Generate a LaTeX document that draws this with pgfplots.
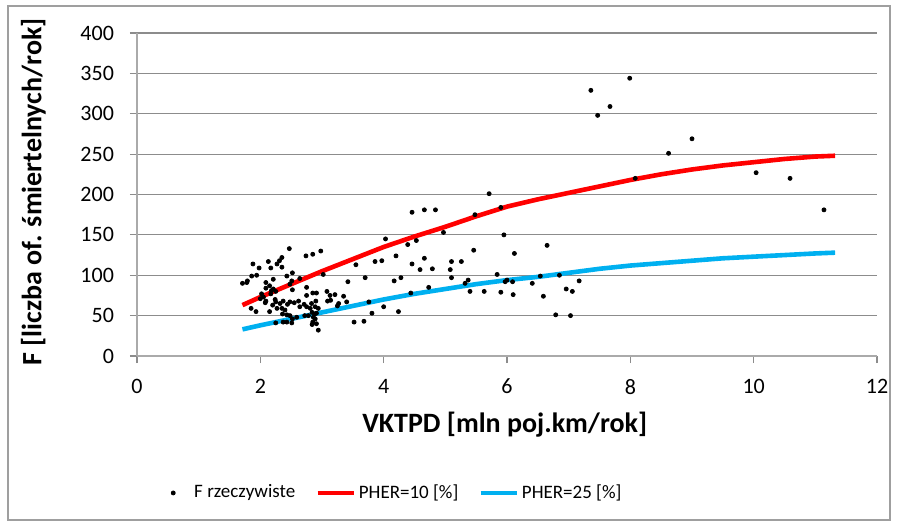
\documentclass[border=0pt]{standalone}
\usepackage{pgfplots}
\pgfplotsset{compat=1.18}
\usepackage{pgfplotstable}
\usepackage{fontspec}
\setmainfont{Carlito}
\definecolor{gridgray}{RGB}{140,140,140}
\definecolor{axgray}{RGB}{170,170,170}
\definecolor{exred}{RGB}{255,0,0}
\definecolor{exblue}{RGB}{0,176,240}

\pgfplotstableread{
x y
1.71 90
1.78 91
1.79 93
1.86 99
1.88 114
1.94 100
1.98 109
2.13 117
2.17 109
2.27 114
2.31 118
2.35 122
2.35 110
2.47 133
2.74 124
2.85 126
2.98 130
2.43 99
2.52 103
2.64 96
2.51 93
2.48 89
2.21 95
3.02 101
2.09 91
2.15 87
2.09 84
2.18 81
2.21 83
2.25 80
2.17 77
2.02 77
2.05 73
2.00 71
2.09 68
2.08 66
2.24 70
2.25 67
2.20 63
2.75 85
2.52 82
2.85 78
2.91 78
2.75 75
3.08 80
3.13 75
3.09 68
3.14 69
3.25 62
3.27 65
2.32 65
2.37 68
2.44 64
2.48 67
2.55 66
2.62 68
2.64 61
2.71 64
2.75 61
2.81 59
2.35 59
2.40 57
2.36 52
2.43 51
2.48 50
1.85 59
1.93 55
2.15 55
2.27 59
2.25 41
2.37 42
2.43 42
2.51 41
2.52 46
2.59 48
2.72 50
2.78 50
2.84 54
2.88 52
2.91 53
2.86 48
2.89 46
2.85 42
2.91 40
2.84 39
2.94 32
2.89 61
2.94 59
2.83 65
2.90 68
3.55 113
3.86 117
3.97 118
4.20 124
3.42 92
3.70 97
4.17 93
4.28 97
3.21 76
3.35 74
3.40 67
3.76 67
4.00 61
4.24 55
3.81 53
3.52 42
3.68 43
4.03 145
4.46 178
4.66 181
4.84 181
5.48 175
5.71 201
5.90 184
4.97 153
4.53 143
4.39 138
5.95 150
5.46 131
4.46 114
4.66 121
4.59 107
4.79 108
5.08 107
5.10 117
5.26 117
5.10 97
6.12 127
6.65 137
4.73 85
4.44 78
5.32 90
5.37 94
5.40 80
5.63 80
5.84 101
5.90 79
5.97 92
6.00 94
6.09 92
6.10 76
6.41 90
6.54 99
6.59 74
6.85 100
6.96 83
7.06 80
7.17 93
6.79 51
7.03 50
7.36 329
7.99 344
7.47 298
7.67 309
8.62 251
9.00 269
8.08 220
10.04 227
10.59 220
11.14 181
}\actual

\pgfplotstableread{
x y
1.71 63
2.0 73
2.5 89
3.0 105
3.5 120
4.0 135
4.5 148
5.0 160
5.5 173
6.0 185
6.5 194
7.0 202
7.5 210
8.0 218
8.5 225
9.0 231
9.5 236
10.0 240
10.5 244
11.0 247
11.32 248
}\pherten

\pgfplotstableread{
x y
1.71 33
2.0 38
2.5 46
3.0 54
3.5 62
4.0 70
4.5 77
5.0 83
5.5 89
6.0 94
6.5 98
7.0 103
7.5 108
8.0 112
8.5 115
9.0 118
9.5 121
10.0 123
10.5 125
11.0 127
11.32 128
}\pherquarter

\begin{document}
\begin{tikzpicture}
\path[use as bounding box] (0,0) rectangle (449.5pt,263.5pt);
\draw[gray!75, line width=0.8pt] (4pt,3.5pt) rectangle (445pt,260.5pt);
\begin{axis}[
  at={(68.5pt,85.5pt)}, anchor=south west,
  scale only axis, width=370pt, height=161.5pt,
  xmin=0, xmax=12, ymin=0, ymax=400,
  xtick={0,2,...,12}, ytick={0,50,...,400},
  axis x line=bottom, axis y line=left,
  axis line style={-, draw=axgray, line width=0.7pt},
  tick align=outside, major tick length=3.5pt,
  tick style={draw=gridgray, line width=0.6pt},
  ymajorgrids, grid style={draw=gridgray, line width=0.6pt},
  tick label style={font=\fontsize{11}{13}\selectfont, text=black},
  /pgf/number format/assume math mode=true,
  yticklabel style={xshift=-4.5pt},
  xticklabel style={yshift=-4.5pt},
  xlabel={VKTPD [mln poj.km/rok]},
  ylabel={F [liczba of. śmiertelnych/rok]},
  label style={font=\bfseries\fontsize{14}{16}\selectfont},
  xlabel style={at={(axis description cs:0.497,-0.2136)}, anchor=center},
  ylabel style={at={(axis description cs:-0.14,0.508)}, anchor=center},
  legend columns=3,
  legend style={at={(axis description cs:0.016,-0.424)}, anchor=west, draw=none,
    font=\fontsize{9.5}{11}\selectfont, fill=none,
    nodes={inner xsep=1.5pt},
    /tikz/every even column/.append style={column sep=8.5pt}},
  legend cell align=left,
]
\addplot[only marks, mark=*, mark size=1pt, black,
  legend image code/.code={\path[draw=none, fill=none] (0pt,0pt) -- (18pt,0pt); \fill[black] (9pt,0pt) circle (1pt);}]
  table {\actual};
\addlegendentry{F rzeczywiste}
\addplot[exred, line width=2.3pt, no marks,
  legend image code/.code={\draw[exred, line width=2.3pt] (0pt,0pt) -- (18pt,0pt);}]
  table {\pherten};
\addlegendentry{PHER=10 [\%]}
\addplot[exblue, line width=2.3pt, no marks,
  legend image code/.code={\draw[exblue, line width=2.3pt] (0pt,0pt) -- (18pt,0pt);}]
  table {\pherquarter};
\addlegendentry{PHER=25 [\%]}
\end{axis}
\end{tikzpicture}
\end{document}
